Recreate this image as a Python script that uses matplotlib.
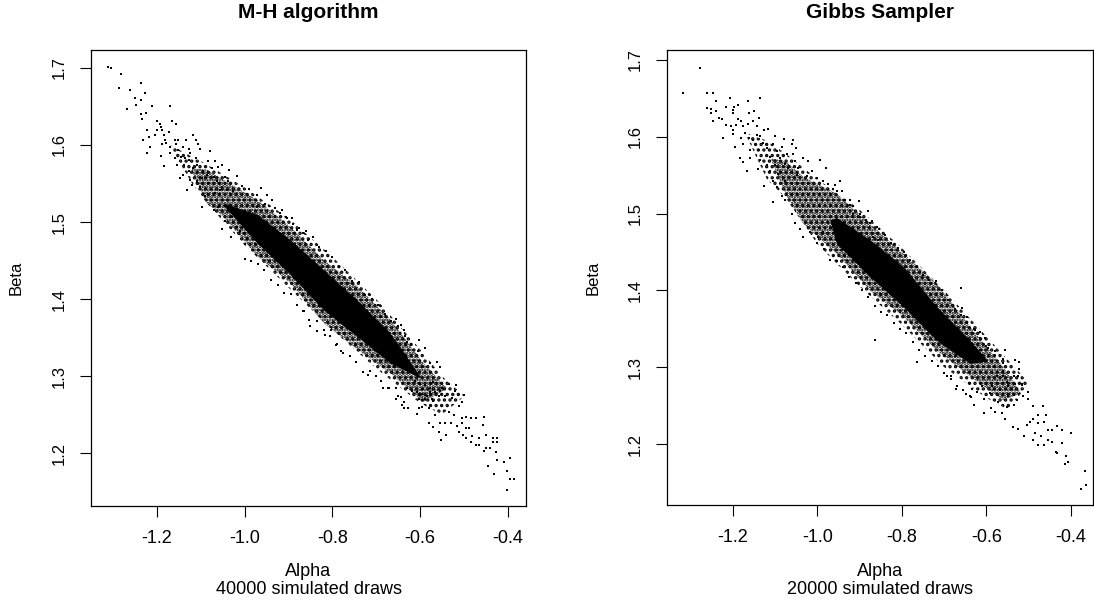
import numpy as np
import matplotlib
matplotlib.use('Agg')
import matplotlib.pyplot as plt

plt.rcParams['font.family'] = ['Liberation Sans', 'DejaVu Sans']
plt.rcParams['hatch.linewidth'] = 1.6

# values: the dense core of each cloud and the speckled
# zones round it are outlines, the sparse points around them are single draws
xticks = [-1.2, -1.0, -0.8, -0.6, -0.4]
mh_yticks = [1.2, 1.3, 1.4, 1.5, 1.6, 1.7]
gibbs_yticks = [1.2, 1.3, 1.4, 1.5, 1.6, 1.7]

mh_core_alpha = [-1.049, -0.972, -0.896, -0.820, -0.744, -0.668, -0.60]
mh_core_upper = [1.525, 1.510, 1.477, 1.438, 1.399, 1.356, 1.30]
mh_core_lower = [1.522, 1.473, 1.432, 1.386, 1.352, 1.317, 1.298]
mh_halo_alpha = [-1.12, -1.087, -1.049, -0.972, -0.896, -0.820, -0.744, -0.668, -0.592, -0.54]
mh_halo_upper = [1.570, 1.568, 1.555, 1.529, 1.494, 1.451, 1.417, 1.374, 1.317, 1.285]
mh_halo_lower = [1.565, 1.525, 1.507, 1.456, 1.421, 1.369, 1.335, 1.304, 1.266, 1.283]
mh_sparse_alpha = [-1.17, -1.12, -1.087, -1.0, -0.9, -0.8, -0.7, -0.6, -0.55, -0.5]
mh_sparse_upper = [1.60, 1.585, 1.575, 1.545, 1.505, 1.455, 1.40, 1.335, 1.30, 1.275]
mh_sparse_lower = [1.598, 1.55, 1.525, 1.47, 1.415, 1.36, 1.31, 1.265, 1.25, 1.273]

gibbs_core_alpha = [-0.97, -0.955, -0.876, -0.797, -0.718, -0.639, -0.60]
gibbs_core_upper = [1.492, 1.495, 1.466, 1.431, 1.379, 1.335, 1.31]
gibbs_core_lower = [1.49, 1.461, 1.418, 1.379, 1.335, 1.305, 1.308]
gibbs_halo_alpha = [-1.11, -1.075, -1.034, -0.955, -0.876, -0.797, -0.718, -0.639, -0.560, -0.52]
gibbs_halo_upper = [1.572, 1.568, 1.548, 1.526, 1.487, 1.448, 1.409, 1.353, 1.30, 1.268]
gibbs_halo_lower = [1.570, 1.525, 1.487, 1.448, 1.400, 1.366, 1.322, 1.288, 1.257, 1.266]
gibbs_sparse_alpha = [-1.17, -1.12, -1.075, -1.0, -0.9, -0.8, -0.7, -0.6, -0.55, -0.5]
gibbs_sparse_upper = [1.605, 1.595, 1.578, 1.545, 1.505, 1.455, 1.40, 1.34, 1.31, 1.28]
gibbs_sparse_lower = [1.603, 1.545, 1.52, 1.46, 1.405, 1.355, 1.30, 1.26, 1.245, 1.278]

mh_top = [(-1.311,1.701),(-1.305,1.700),(-1.282,1.692),(-1.237,1.680),(-1.287,1.674),(-1.262,1.672),(-1.227,1.668),
    (-1.250,1.661),(-1.237,1.658),(-1.248,1.652),(-1.211,1.650),(-1.170,1.650),(-1.269,1.647),(-1.226,1.641),
    (-1.237,1.640),(-1.234,1.634),(-1.200,1.631),(-1.166,1.631),(-1.193,1.627),(-1.157,1.627),(-1.191,1.623),
    (-1.223,1.620),(-1.200,1.620),(-1.173,1.617),(-1.189,1.619),(-1.205,1.613),(-1.218,1.611),(-1.184,1.613),
    (-1.118,1.613),(-1.232,1.607),(-1.182,1.607),(-1.152,1.607),(-1.159,1.606),(-1.134,1.607),(-1.111,1.607),
    (-1.189,1.601),(-1.179,1.602),(-1.170,1.598),(-1.157,1.601),(-1.141,1.597),(-1.128,1.595),(-1.106,1.601),
    (-1.079,1.592),(-1.223,1.589),(-1.216,1.598),(-1.191,1.586),(-1.170,1.589),(-1.152,1.593),(-1.159,1.583),
    (-1.146,1.584),(-1.136,1.583),(-1.125,1.589),(-1.111,1.583),(-1.102,1.595),(-1.184,1.573),(-1.155,1.574),
    (-1.138,1.574),(-1.126,1.580),(-1.108,1.574),(-1.084,1.579),(-1.068,1.579),(-1.051,1.574),(-1.148,1.557),
    (-1.140,1.561),(-1.128,1.566),(-1.117,1.570),(-1.094,1.566),(-1.075,1.570),(-1.060,1.571),(-1.036,1.567),
    (-1.132,1.542),(-1.121,1.548),(-1.109,1.553),(-1.098,1.557),(-1.087,1.561),(-1.071,1.559),(-1.045,1.559),
    (-1.018,1.560),(-1.125,1.555),(-1.102,1.546),(-1.083,1.551),(-1.064,1.553),(-1.052,1.546),(-1.037,1.553),
    (-1.007,1.547),(-0.990,1.543),(-0.963,1.544),(-1.098,1.519),(-1.090,1.534),(-1.075,1.529),(-1.068,1.538),
    (-1.056,1.542),(-1.041,1.542),(-1.026,1.540),(-0.972,1.535),(-0.950,1.535),(-0.938,1.529),(-1.071,1.515),
    (-1.060,1.520),(-1.045,1.501),(-1.052,1.491),(-1.032,1.481),(-1.018,1.494),(-1.030,1.507),(-0.972,1.520),
    (-0.953,1.523),(-0.919,1.512),(-0.904,1.505),(-0.893,1.505),(-0.881,1.490),(-0.866,1.486),(-0.855,1.477),
    (-1.000,1.471),(-0.995,1.479),(-1.010,1.488)]
mh_bottom = [(-0.401,1.152),(-0.395,1.167),(-0.386,1.167),(-0.430,1.173),(-0.445,1.183),(-0.401,1.177),(-0.408,1.188),
    (-0.394,1.193),(-0.424,1.191),(-0.427,1.201),(-0.439,1.206),(-0.449,1.207),(-0.453,1.203),(-0.466,1.211),
    (-0.472,1.211),(-0.484,1.215),(-0.502,1.224),(-0.495,1.220),(-0.480,1.222),(-0.465,1.220),(-0.449,1.224),
    (-0.432,1.219),(-0.423,1.219),(-0.432,1.214),(-0.423,1.214),(-0.457,1.237),(-0.453,1.247),(-0.472,1.246),
    (-0.484,1.245),(-0.495,1.247),(-0.503,1.245),(-0.488,1.233),(-0.495,1.233),(-0.515,1.235),(-0.505,1.239),
    (-0.530,1.239),(-0.542,1.239),(-0.553,1.239),(-0.571,1.234),(-0.580,1.239),(-0.552,1.217),(-0.540,1.223),
    (-0.557,1.228),(-0.511,1.228),(-0.565,1.249),(-0.534,1.253),(-0.522,1.250),(-0.511,1.261),(-0.503,1.266),
    (-0.499,1.276),(-0.519,1.280),(-0.517,1.289),(-0.534,1.290),(-0.549,1.285),(-0.542,1.274),(-0.526,1.272),
    (-0.557,1.274),(-0.569,1.268),(-0.580,1.259),(-0.603,1.259),(-0.607,1.251),(-0.636,1.266),(-0.636,1.259),
    (-0.627,1.259),(-0.596,1.260),(-0.642,1.273),(-0.553,1.312),(-0.561,1.318),(-0.576,1.317),(-0.588,1.336),
    (-0.603,1.347),(-0.636,1.360),(-0.654,1.374),(-0.642,1.366),(-0.630,1.344),(-0.719,1.302),(-0.688,1.294),
    (-0.673,1.285),(-0.654,1.285),(-0.650,1.274),(-0.781,1.333),(-0.792,1.340),(-0.804,1.360),(-0.816,1.353),
    (-0.835,1.371),(-0.853,1.373),(-0.866,1.384),(-0.611,1.294),(-0.600,1.290),(-0.588,1.288),(-0.576,1.285),
    (-0.569,1.292),(-0.596,1.277),(-0.584,1.274),(-0.607,1.279),(-0.619,1.281),(-0.630,1.285),(-0.565,1.279),
    (-0.553,1.281),(-0.603,1.270),(-0.588,1.270),(-0.573,1.270),(-0.592,1.283),(-0.576,1.279)]
mh_edge = [(-0.950,1.535),(-0.930,1.518),(-0.915,1.515),(-0.905,1.507),(-0.890,1.497),(-0.875,1.492),(-0.860,1.488),
    (-0.845,1.480),(-0.830,1.467),(-0.815,1.463),(-0.800,1.455),(-0.785,1.442),(-0.770,1.438),(-0.755,1.424),
    (-0.740,1.422),(-0.725,1.405),(-0.710,1.400),(-0.695,1.392),(-0.680,1.380),(-0.665,1.372),(-0.650,1.365),
    (-0.635,1.352),(-0.620,1.342),(-0.605,1.332),(-1.000,1.452),(-0.985,1.450),(-0.970,1.445),(-0.955,1.438),
    (-0.940,1.425),(-0.925,1.418),(-0.910,1.408),(-0.895,1.407),(-0.880,1.392),(-0.865,1.385),(-0.850,1.365),
    (-0.835,1.358),(-0.820,1.360),(-0.805,1.352),(-0.790,1.342),(-0.775,1.330),(-0.760,1.326),(-0.745,1.318),
    (-0.730,1.305),(-0.715,1.306),(-0.700,1.300),(-0.685,1.285),(-0.670,1.284),(-0.655,1.270),(-0.640,1.262)]

gibbs_top = [(-1.278,1.690),(-1.318,1.657),(-1.262,1.657),(-1.247,1.657),(-1.207,1.650),(-1.136,1.651),(-1.165,1.647),
    (-1.240,1.646),(-1.188,1.641),(-1.262,1.638),(-1.252,1.636),(-1.217,1.639),(-1.240,1.634),(-1.198,1.639),
    (-1.200,1.635),(-1.200,1.631),(-1.150,1.633),(-1.162,1.631),(-1.252,1.631),(-1.138,1.625),(-1.247,1.620),
    (-1.233,1.624),(-1.225,1.623),(-1.188,1.623),(-1.181,1.621),(-1.152,1.621),(-1.164,1.617),(-1.217,1.616),
    (-1.205,1.614),(-1.193,1.615),(-1.176,1.614),(-1.144,1.614),(-1.199,1.609),(-1.127,1.609),(-1.116,1.610),
    (-1.172,1.605),(-1.144,1.602),(-1.199,1.603),(-1.224,1.598),(-1.180,1.599),(-1.161,1.599),(-1.136,1.601),
    (-1.101,1.601),(-1.079,1.597),(-1.059,1.596),(-1.195,1.587),(-1.176,1.591),(-1.152,1.596),(-1.128,1.592),
    (-1.105,1.591),(-1.085,1.587),(-1.061,1.591),(-1.051,1.585),(-1.160,1.583),(-1.140,1.583),(-1.120,1.585),
    (-1.097,1.581),(-1.073,1.578),(-1.183,1.573),(-1.160,1.573),(-1.136,1.570),(-1.112,1.574),(-1.089,1.572),
    (-1.057,1.578),(-1.034,1.572),(-1.176,1.567),(-1.140,1.558),(-1.120,1.563),(-1.101,1.563),(-1.077,1.565),
    (-1.053,1.568),(-1.022,1.568),(-0.994,1.570),(-1.166,1.555),(-1.112,1.555),(-1.093,1.552),(-1.069,1.560),
    (-1.045,1.560),(-1.014,1.556),(-0.981,1.560),(-1.002,1.546),(-0.986,1.542),(-1.127,1.536),(-1.105,1.542),
    (-1.097,1.535),(-1.077,1.542),(-1.049,1.550),(-1.026,1.549),(-0.974,1.539),(-0.959,1.537),(-0.947,1.542),
    (-1.105,1.515),(-1.085,1.523),(-1.077,1.518),(-1.061,1.524),(-1.049,1.511),(-0.963,1.532),(-0.943,1.530),
    (-0.923,1.518),(-0.902,1.516),(-0.880,1.503),(-0.923,1.511),(-1.061,1.500),(-1.053,1.488),(-1.041,1.480),
    (-1.034,1.469),(-1.018,1.476),(-0.998,1.470),(-0.986,1.476),(-0.899,1.496),(-0.876,1.488),(-0.860,1.483),
    (-0.915,1.500),(-0.868,1.469),(-0.856,1.466)]
gibbs_bottom = [(-0.367,1.165),(-0.364,1.147),(-0.376,1.142),(-0.414,1.174),(-0.406,1.176),(-0.434,1.188),(-0.436,1.190),
    (-0.412,1.184),(-0.422,1.201),(-0.401,1.214),(-0.422,1.218),(-0.434,1.223),(-0.446,1.218),(-0.454,1.218),
    (-0.465,1.229),(-0.477,1.228),(-0.477,1.199),(-0.465,1.199),(-0.446,1.202),(-0.455,1.205),(-0.489,1.205),
    (-0.485,1.214),(-0.472,1.211),(-0.511,1.211),(-0.525,1.220),(-0.538,1.222),(-0.505,1.225),(-0.497,1.229),
    (-0.489,1.232),(-0.477,1.238),(-0.459,1.238),(-0.467,1.250),(-0.489,1.249),(-0.501,1.259),(-0.514,1.262),
    (-0.501,1.268),(-0.517,1.277),(-0.536,1.264),(-0.535,1.288),(-0.525,1.289),(-0.523,1.298),(-0.522,1.307),
    (-0.533,1.309),(-0.556,1.322),(-0.562,1.311),(-0.562,1.305),(-0.560,1.295),(-0.580,1.321),(-0.596,1.325),
    (-0.603,1.338),(-0.615,1.346),(-0.627,1.348),(-0.647,1.366),(-0.661,1.403),(-0.659,1.377),(-0.864,1.336),
    (-0.765,1.307),(-0.694,1.288),(-0.684,1.288),(-0.672,1.272),(-0.648,1.265),(-0.637,1.261),(-0.630,1.251),
    (-0.606,1.240),(-0.590,1.247),(-0.580,1.242),(-0.556,1.233),(-0.564,1.240),(-0.552,1.248),(-0.536,1.251),
    (-0.572,1.255),(-0.548,1.262),(-0.528,1.257),(-0.592,1.266),(-0.607,1.259),(-0.623,1.268),(-0.639,1.279),
    (-0.635,1.272),(-0.611,1.275),(-0.588,1.275),(-0.568,1.270),(-0.552,1.281),(-0.533,1.278),(-0.560,1.288),
    (-0.576,1.288),(-0.548,1.275),(-0.517,1.278),(-0.540,1.272)]
gibbs_edge = [(-0.955,1.530),(-0.935,1.518),(-0.915,1.510),(-0.900,1.500),(-0.885,1.492),(-0.870,1.490),(-0.855,1.480),
    (-0.840,1.472),(-0.825,1.462),(-0.810,1.455),(-0.795,1.450),(-0.780,1.440),(-0.765,1.430),(-0.750,1.420),
    (-0.735,1.413),(-0.720,1.412),(-0.705,1.400),(-0.690,1.387),(-0.675,1.376),(-0.660,1.368),(-0.645,1.358),
    (-0.630,1.350),(-0.615,1.338),(-0.600,1.328),(-1.000,1.462),(-0.985,1.454),(-0.970,1.440),(-0.955,1.438),
    (-0.940,1.430),(-0.925,1.417),(-0.910,1.410),(-0.895,1.400),(-0.880,1.392),(-0.865,1.380),(-0.850,1.372),
    (-0.835,1.368),(-0.820,1.358),(-0.805,1.350),(-0.790,1.345),(-0.775,1.333),(-0.760,1.323),(-0.745,1.315),
    (-0.730,1.308),(-0.715,1.302),(-0.700,1.292),(-0.685,1.285),(-0.670,1.275),(-0.655,1.270),(-0.640,1.262)]

W, H = 1094, 600


def panel(box, xlim, ylim, core, halo, sparse, clouds, yticks, title, xlab, beta_x):
    l, t, r, b = box
    ax = fig.add_axes([l / W, 1 - b / H, (r - l) / W, (b - t) / H])
    ax.fill_between(sparse[0], sparse[1], sparse[2], facecolor='none', edgecolor='black', lw=0, hatch='...')
    ax.fill_between(halo[0], halo[1], halo[2], facecolor='none', edgecolor='black', lw=0, hatch='.....')
    ax.fill_between(core[0], core[1], core[2], color='black', lw=0)
    for c in clouds:
        pts = np.array(c)
        ax.plot(pts[:, 0], pts[:, 1], ls='none', marker='s', ms=1.6, mew=0, color='black')
    ax.set_xlim(xlim)
    ax.set_ylim(ylim)
    ax.set_xticks(xticks)
    ax.set_xticklabels(['%.1f' % v for v in xticks])
    ax.set_yticks(yticks)
    ax.set_yticklabels(['%.1f' % v for v in yticks], rotation=90, va='center')
    ax.tick_params(length=8.2, width=0.8, pad=9)
    ax.tick_params(axis='x', labelsize=13)
    ax.tick_params(axis='y', labelsize=12)
    for s in ax.spines.values():
        s.set_linewidth(0.9)
    mid = (l + r) / 2 / W
    fig.text(mid, 1 - 13 / H, title, ha='center', va='center', fontsize=15, fontweight='bold')
    fig.text(mid, 1 - 571 / H, 'Alpha', ha='center', va='center', fontsize=13)
    fig.text(mid, 1 - 590 / H, xlab, ha='center', va='center', fontsize=13)
    fig.text(beta_x / W, 1 - (t + b) / 2 / H, 'Beta', rotation=90, ha='center', va='center', fontsize=12)
    return ax


fig = plt.figure(figsize=(W / 100, H / 100), dpi=100)
panel((91, 50, 526, 506), (-1.3507, -0.3578), (1.1313, 1.7233),
      (mh_core_alpha, mh_core_upper, mh_core_lower), (mh_halo_alpha, mh_halo_upper, mh_halo_lower),
      (mh_sparse_alpha, mh_sparse_upper, mh_sparse_lower),
      (mh_top, mh_bottom, mh_edge), mh_yticks, 'M-H algorithm', '40000 simulated draws', 16)
panel((667, 50, 1093, 505), (-1.3562, -0.3479), (1.1206, 1.713),
      (gibbs_core_alpha, gibbs_core_upper, gibbs_core_lower), (gibbs_halo_alpha, gibbs_halo_upper, gibbs_halo_lower),
      (gibbs_sparse_alpha, gibbs_sparse_upper, gibbs_sparse_lower),
      (gibbs_top, gibbs_bottom, gibbs_edge), gibbs_yticks, 'Gibbs Sampler', '20000 simulated draws', 593)
fig.savefig('out.png', dpi=100)
